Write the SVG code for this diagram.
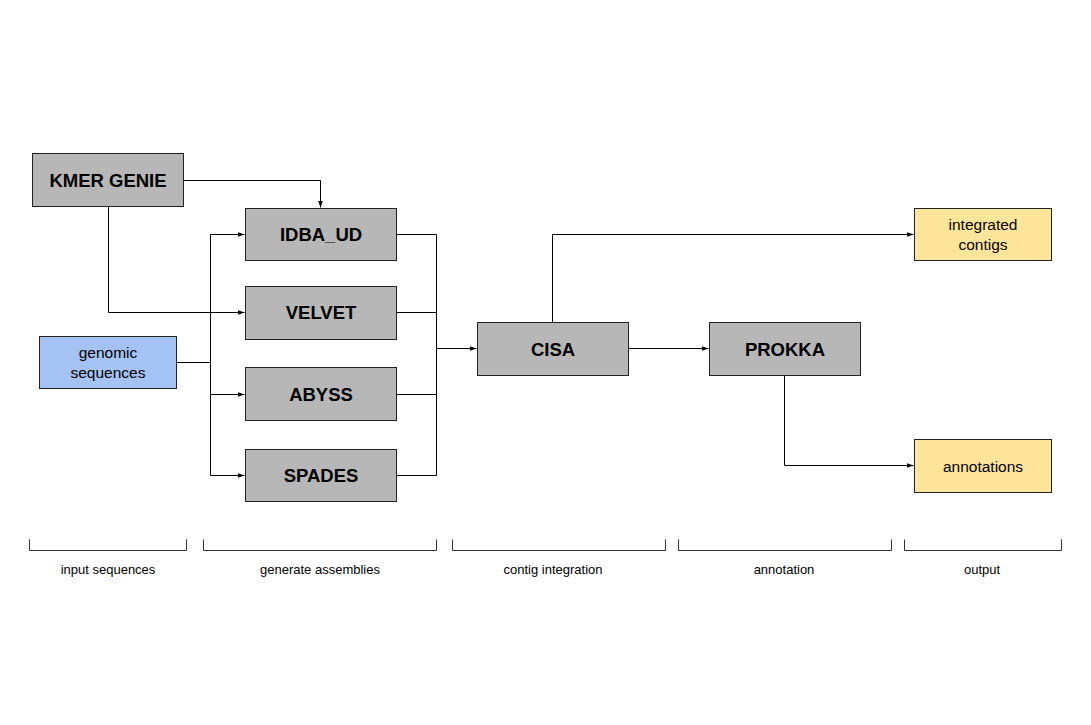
<svg xmlns="http://www.w3.org/2000/svg" width="1091" height="725" viewBox="0 0 1091 725">
<style>
.tool{fill:#b7b7b7;stroke:#222;stroke-width:1}
.in{fill:#a4c2f4;stroke:#222;stroke-width:1}
.out{fill:#ffe599;stroke:#222;stroke-width:1}
.tt{font-family:"Liberation Sans",Arial,sans-serif;font-weight:bold;font-size:18.5px;fill:#000;text-anchor:middle}
.nt{font-family:"Liberation Sans",Arial,sans-serif;font-size:15.5px;fill:#000;text-anchor:middle}
.lb{font-family:"Liberation Sans",Arial,sans-serif;font-size:13px;fill:#000;text-anchor:middle}
.c{fill:none;stroke:#000;stroke-width:1}
.ca{fill:none;stroke:#000;stroke-width:1;marker-end:url(#ah)}
.br{fill:none;stroke:#333;stroke-width:1}
</style>
<defs>
<marker id="ah" markerWidth="8" markerHeight="6" refX="7" refY="3" orient="auto" markerUnits="userSpaceOnUse">
<path d="M0,0.5 L7,3 L0,5.5 Z" fill="#000"/>
</marker>
</defs>
<rect width="1091" height="725" fill="#fff"/>
<g id="connectors">
<path class="ca" d="M183.5,180.5 H320.5 V207.5"/>
<path class="ca" d="M108.5,206.5 V312.5 H244.5"/>
<path class="c" d="M176.5,362.5 H210.5"/>
<path class="c" d="M210.5,234.5 V475.5"/>
<path class="ca" d="M210.5,234.5 H244.5"/>
<path class="ca" d="M210.5,394.5 H244.5"/>
<path class="ca" d="M210.5,475.5 H244.5"/>
<path class="c" d="M396.5,234.5 H436.5 V475.5 H396.5"/>
<path class="c" d="M396.5,312.5 H436.5"/>
<path class="c" d="M396.5,394.5 H436.5"/>
<path class="ca" d="M436.5,348.5 H476.5"/>
<path class="ca" d="M628.5,348.5 H708.5"/>
<path class="ca" d="M552.5,322.5 V234.5 H913.5"/>
<path class="ca" d="M784.5,375.5 V465.5 H913.5"/>
</g>
<g id="kmer"><rect class="tool" x="32.5" y="153.5" width="151" height="53"/><text class="tt" x="108" y="186.5">KMER GENIE</text></g>
<g id="idba"><rect class="tool" x="245.5" y="208.5" width="151" height="52"/><text class="tt" x="321" y="241">IDBA_UD</text></g>
<g id="velvet"><rect class="tool" x="245.5" y="286.5" width="151" height="53"/><text class="tt" x="321" y="319">VELVET</text></g>
<g id="abyss"><rect class="tool" x="245.5" y="367.5" width="151" height="53"/><text class="tt" x="321" y="401">ABYSS</text></g>
<g id="spades"><rect class="tool" x="245.5" y="449.5" width="151" height="52"/><text class="tt" x="321" y="482">SPADES</text></g>
<g id="genomic"><rect class="in" x="39.5" y="336.5" width="137" height="52"/><text class="nt" x="108" y="358">genomic</text><text class="nt" x="108" y="377.5">sequences</text></g>
<g id="cisa"><rect class="tool" x="477.5" y="322.5" width="151" height="53"/><text class="tt" x="553" y="356">CISA</text></g>
<g id="prokka"><rect class="tool" x="709.5" y="322.5" width="151" height="53"/><text class="tt" x="785" y="356">PROKKA</text></g>
<g id="integrated"><rect class="out" x="914.5" y="208.5" width="137" height="52"/><text class="nt" x="983" y="230">integrated</text><text class="nt" x="983" y="249.5">contigs</text></g>
<g id="annotations"><rect class="out" x="914.5" y="439.5" width="137" height="53"/><text class="nt" x="983" y="471.5">annotations</text></g>
<g id="brackets">
<path class="br" d="M29.5,539.5 V550.5 H186.5 V539.5"/>
<path class="br" d="M203.5,539.5 V550.5 H436.5 V539.5"/>
<path class="br" d="M452.5,539.5 V550.5 H665.5 V539.5"/>
<path class="br" d="M678.5,539.5 V550.5 H891.5 V539.5"/>
<path class="br" d="M904.5,539.5 V550.5 H1061.5 V539.5"/>
<text class="lb" x="108" y="574">input sequences</text>
<text class="lb" x="320" y="574">generate assemblies</text>
<text class="lb" x="553" y="574">contig integration</text>
<text class="lb" x="784" y="574">annotation</text>
<text class="lb" x="982" y="574">output</text>
</g>
</svg>
